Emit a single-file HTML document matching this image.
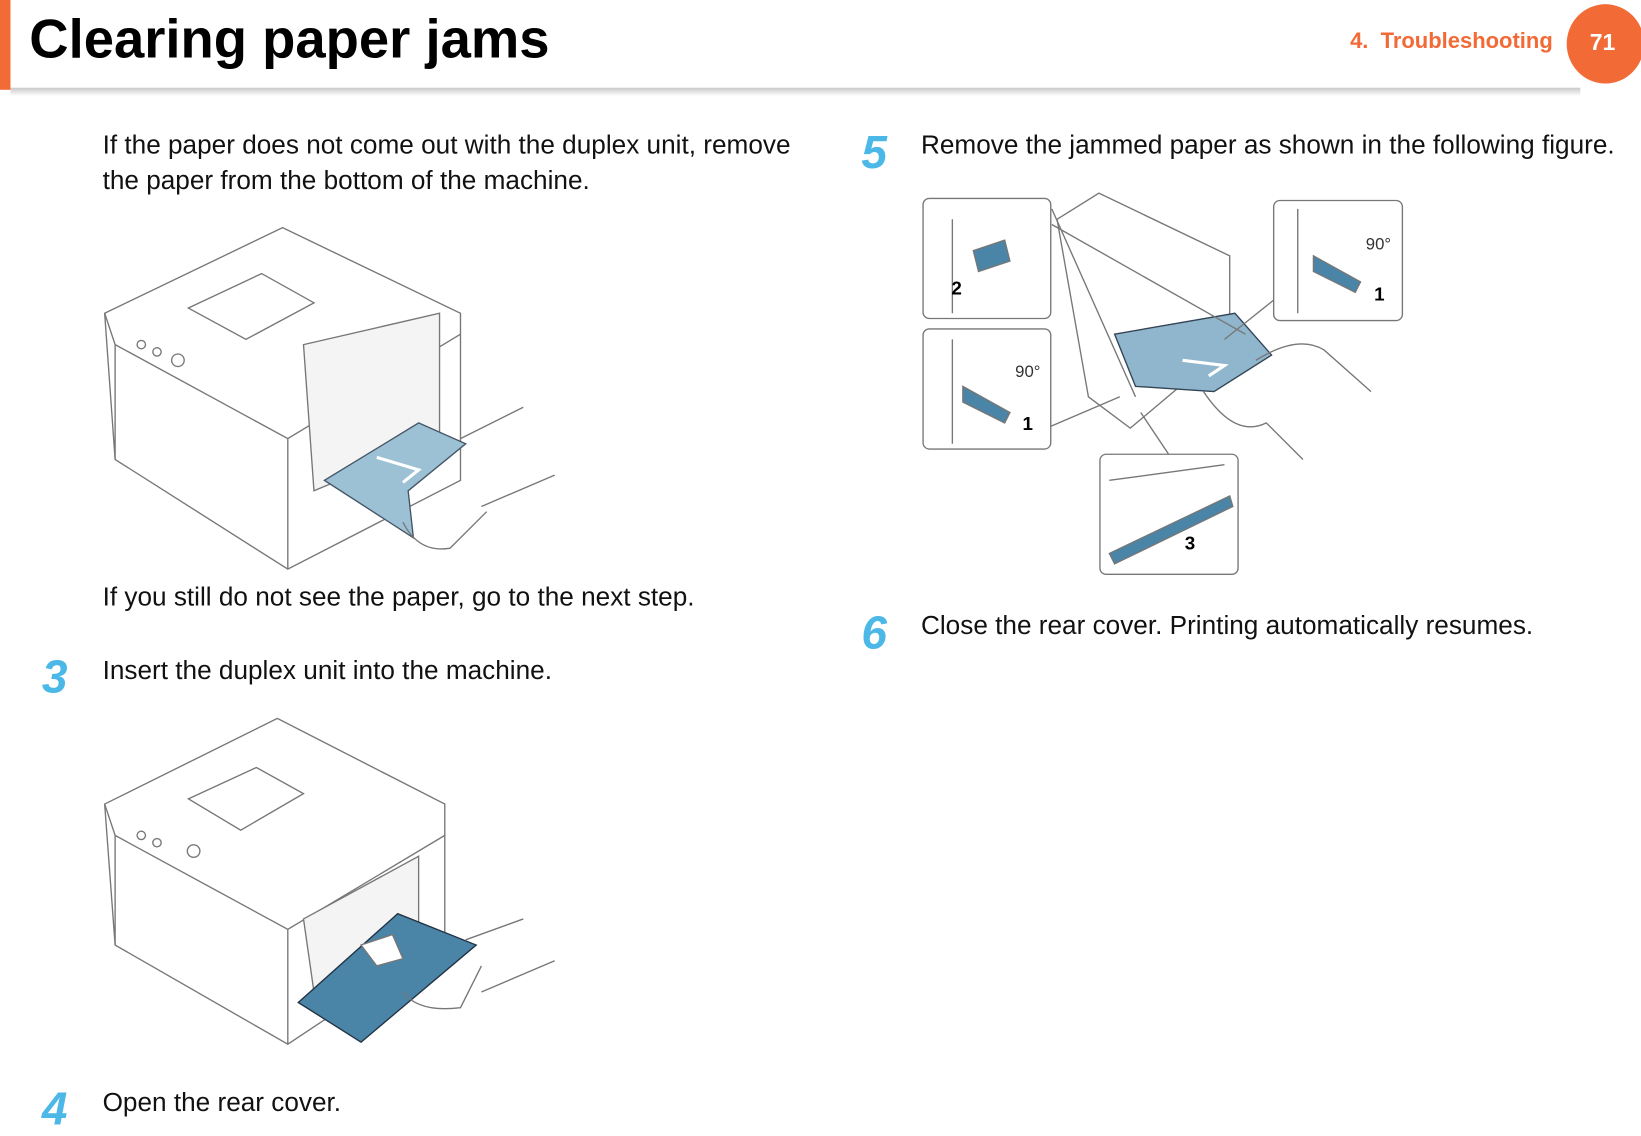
<!DOCTYPE html>
<html><head><meta charset="utf-8"><style>
html,body{margin:0;padding:0;background:#fff;overflow:hidden;width:1641px;height:1133px}
#w{position:absolute;left:0;top:0;width:1568px;height:1085px;transform:scale(1.04656,1.04424);transform-origin:0 0;font-family:"Liberation Sans",sans-serif}
.t{position:absolute;font-size:25px;color:#111;white-space:nowrap;letter-spacing:0}
.n{position:absolute;font-size:44px;font-weight:bold;font-style:italic;color:#4cb8e8;letter-spacing:-2px}
</style></head><body><div id="w">
<div style="position:absolute;left:0;top:0;width:10px;height:86px;background:#f26a36"></div>
<div style="position:absolute;left:28px;top:8px;font-size:52px;font-weight:bold;color:#000;letter-spacing:0">Clearing paper jams</div>
<div style="position:absolute;left:10px;top:84px;width:1500px;height:8px;background:linear-gradient(to bottom,#bbb,#fff);opacity:.8"></div>
<div style="position:absolute;left:1290px;top:28px;font-size:21px;font-weight:bold;color:#f26a36">4.&nbsp; Troubleshooting</div>
<div style="position:absolute;left:1497px;top:4px;width:74px;height:76px;border-radius:50%;background:#f26a36"></div>
<div style="position:absolute;left:1519px;top:28px;font-size:22px;font-weight:bold;color:#fff">71</div>

<div class="t" style="left:98px;top:125px">If the paper does not come out with the duplex unit, remove</div>
<div class="t" style="left:98px;top:159px">the paper from the bottom of the machine.</div>
<div class="t" style="left:98px;top:558px">If you still do not see the paper, go to the next step.</div>
<div class="n" style="left:40px;top:624px">3</div>
<div class="t" style="left:98px;top:628px">Insert the duplex unit into the machine.</div>
<div class="n" style="left:40px;top:1038px">4</div>
<div class="t" style="left:98px;top:1042px">Open the rear cover.</div>
<div class="n" style="left:823px;top:122px">5</div>
<div class="t" style="left:880px;top:125px">Remove the jammed paper as shown in the following figure.</div>
<div class="n" style="left:823px;top:582px">6</div>
<div class="t" style="left:880px;top:585px">Close the rear cover. Printing automatically resumes.</div>

<svg style="position:absolute;left:0;top:0" width="1568" height="1085" fill="none" stroke="#777" stroke-width="1.3">
<g>
<path d="M100 300 L270 218 L440 300 L440 460 L275 545 L110 440 Z" fill="#fff"/>
<path d="M100 300 L110 330 L275 420 L440 320 M275 420 L275 545 M110 330 L110 440"/>
<path d="M180 295 L250 262 L300 290 L235 325 Z"/>
<path d="M290 330 L420 300 L420 420 L300 470 Z" fill="#f4f4f4"/>
<path d="M310 460 L400 405 L445 425 L390 470 L395 515 Z" fill="#9cc0d4" stroke="#456"/>
<path d="M360 438 L400 450 L385 462" stroke="#fff" stroke-width="3"/>
<path d="M440 420 L500 390 M460 485 L530 455 M385 500 Q400 530 430 525 L465 490"/>
<circle cx="135" cy="330" r="4"/><circle cx="150" cy="337" r="4"/><circle cx="170" cy="345" r="6"/>
</g>
<g>
<path d="M100 770 L265 688 L425 770 L425 900 L275 1000 L110 905 Z" fill="#fff"/>
<path d="M100 770 L110 800 L275 890 L425 800 M275 890 L275 1000 M110 800 L110 905"/>
<path d="M180 765 L245 735 L290 760 L230 795 Z"/>
<path d="M290 880 L400 820 L400 900 L300 950 Z" fill="#f4f4f4"/>
<path d="M285 960 L380 875 L455 905 L345 998 Z" fill="#4a84a6" stroke="#234"/>
<path d="M345 905 L375 895 L385 918 L360 925 Z" fill="#fff"/>
<path d="M445 900 L500 880 M460 950 L530 920 M385 950 Q400 970 440 965 L460 925"/>
<circle cx="135" cy="800" r="4"/><circle cx="150" cy="807" r="4"/><circle cx="185" cy="815" r="6"/>
</g>
<g>
<path d="M1010 210 L1050 185 L1175 245 L1175 330 L1080 410 L1040 380 Z" fill="#fff"/>
<path d="M1065 320 L1180 300 L1215 340 L1160 375 L1085 370 Z" fill="#8fb6cc" stroke="#345"/>
<path d="M1130 345 L1170 350 L1155 360" stroke="#fff" stroke-width="3"/>
<path d="M1200 345 Q1240 320 1265 335 L1310 375 M1150 375 Q1180 420 1210 405 L1245 440"/>
<path d="M1005 200 L1085 380 M1005 215 L1190 320 M1220 285 L1170 325 M1000 410 L1070 380 M1120 440 L1090 395"/>
<rect x="882" y="190" width="122" height="115" rx="6" fill="#fff"/>
<rect x="1217" y="192" width="123" height="115" rx="6" fill="#fff"/>
<rect x="882" y="315" width="122" height="115" rx="6" fill="#fff"/>
<rect x="1051" y="435" width="132" height="115" rx="6" fill="#fff"/>
<path d="M930 240 L960 230 L965 250 L935 260 Z" fill="#4a84a6"/>
<path d="M1255 245 L1300 270 L1295 280 L1255 260 Z" fill="#4a84a6"/>
<path d="M920 370 L965 395 L960 405 L920 385 Z" fill="#4a84a6"/>
<path d="M1060 530 L1175 475 L1178 485 L1065 540 Z" fill="#4a84a6"/>
<path d="M910 210 L910 300 M1240 200 L1240 300 M910 325 L910 425 M1060 460 L1170 445"/>
</g>
</svg>
<div style="position:absolute;left:909px;top:266px;font-size:18px;font-weight:bold">2</div>
<div style="position:absolute;left:1313px;top:272px;font-size:18px;font-weight:bold">1</div>
<div style="position:absolute;left:977px;top:396px;font-size:18px;font-weight:bold">1</div>
<div style="position:absolute;left:1132px;top:510px;font-size:18px;font-weight:bold">3</div>
<div style="position:absolute;left:1305px;top:226px;font-size:16px;color:#333">90°</div>
<div style="position:absolute;left:970px;top:348px;font-size:16px;color:#333">90°</div>
</div></body></html>
